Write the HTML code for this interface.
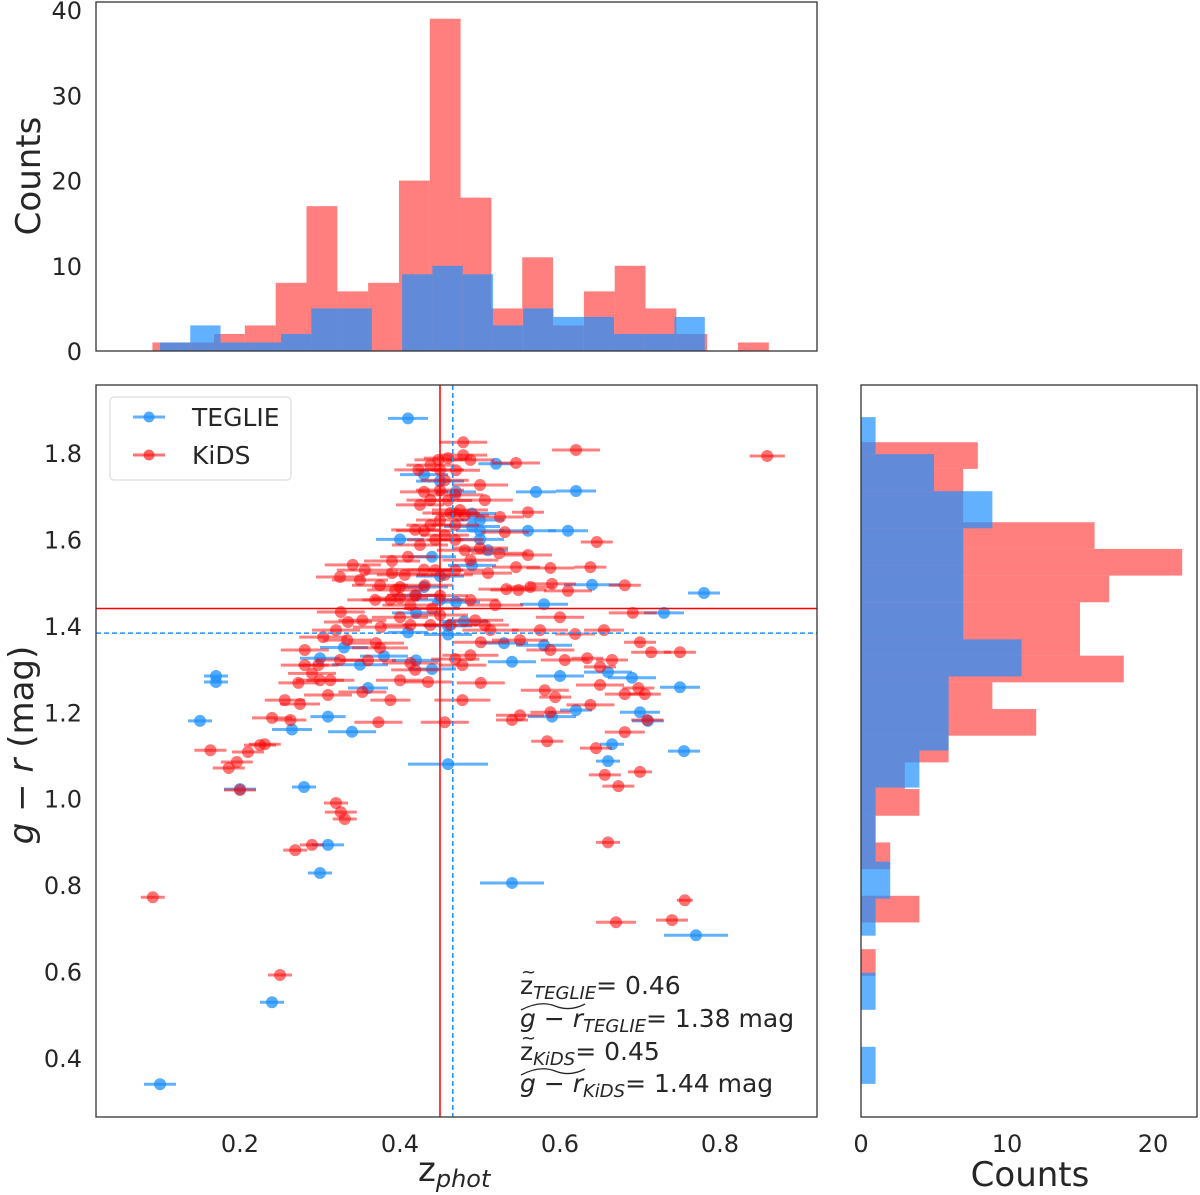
<!DOCTYPE html>
<html><head><meta charset="utf-8"><style>
html,body{margin:0;padding:0;background:#fff;}
svg{display:block;font-family:"DejaVu Sans","Liberation Sans",sans-serif;}
</style></head><body>
<svg id="chart" width="1200" height="1195" viewBox="0 0 1200 1195" xmlns="http://www.w3.org/2000/svg">
<g id="top-hist"></g>
<g id="right-hist"></g>
<g id="scatter"></g>
<g id="frames">
<rect x="96" y="2" width="721" height="349" fill="none" stroke="#333" stroke-width="1.3"/>
<rect x="96" y="385" width="721" height="732" fill="none" stroke="#333" stroke-width="1.3"/>
<rect x="861" y="385" width="336" height="732" fill="none" stroke="#333" stroke-width="1.3"/>
</g>
<g id="ticks" font-size="24" fill="#262626"></g>
<g>
<rect x="110" y="397" width="181" height="83" rx="4" fill="#fff" fill-opacity="0.85" stroke="#ddd" stroke-width="1.2"/>
<g>
<line x1="133" y1="417" x2="165" y2="417" stroke="#1e90ff" stroke-opacity="0.7" stroke-width="3"/>
<circle cx="149" cy="417" r="5.5" fill="#1e90ff" fill-opacity="0.75"/>
<text x="192" y="426" font-size="25" fill="#262626">TEGLIE</text></g>
<g>
<line x1="133" y1="455" x2="165" y2="455" stroke="#ff0000" stroke-opacity="0.55" stroke-width="3"/>
<circle cx="149" cy="455" r="5.5" fill="#ff0000" fill-opacity="0.6"/>
<text x="192" y="464" font-size="25" fill="#262626">KiDS</text></g>
</g>
<g font-size="25" fill="#262626">
<text x="520" y="994">z<tspan font-style="italic" font-size="18" dy="5">TEGLIE</tspan><tspan dy="-5">= 0.46</tspan></text>
<text x="521" y="978" font-size="18">~</text>
<text x="520" y="1027"><tspan font-style="italic">g</tspan> − <tspan font-style="italic">r</tspan><tspan font-style="italic" font-size="18" dy="5">TEGLIE</tspan><tspan dy="-5">= 1.38 mag</tspan></text>
<path d="M521 1010 Q540 1000 555 1006 Q570 1012 585 1004" fill="none" stroke="#262626" stroke-width="1.3"/>
<text x="520" y="1060">z<tspan font-style="italic" font-size="18" dy="5">KiDS</tspan><tspan dy="-5">= 0.45</tspan></text>
<text x="521" y="1044" font-size="18">~</text>
<text x="520" y="1092"><tspan font-style="italic">g</tspan> − <tspan font-style="italic">r</tspan><tspan font-style="italic" font-size="18" dy="5">KiDS</tspan><tspan dy="-5">= 1.44 mag</tspan></text>
<path d="M521 1075 Q540 1065 555 1071 Q570 1077 585 1069" fill="none" stroke="#262626" stroke-width="1.3"/>
</g>
<text x="0" y="0" font-size="34" fill="#262626" text-anchor="middle" transform="translate(40,176) rotate(-90)">Counts</text>
<text x="0" y="0" font-size="34" fill="#262626" text-anchor="middle" transform="translate(33,745) rotate(-90)"><tspan font-style="italic">g</tspan> − <tspan font-style="italic">r</tspan> (mag)</text>
<text x="418" y="1181" font-size="34" fill="#262626">z<tspan font-style="italic" font-size="24" dy="6">phot</tspan></text>
<text x="1030" y="1186" font-size="34" fill="#262626" text-anchor="middle">Counts</text>
</svg>
<script>
// ---- data ----
const topRedCounts=[1,1,2,3,8,17,7,8,20,39,18,5,11,3,7,10,5,2,0,1];
const topRedRange=[0.0905,0.861];
const topBlueCounts=[1,3,1,1,2,5,5,0,9,10,9,3,5,4,4,2,2,4];
const topBlueRange=[0.100,0.781];
const rightRedCounts=[8,7,7,16,22,17,15,15,18,9,12,6,3,4,1,2,0,4,0,1];
const rightRedRange=[1.825,0.590];
const rightBlueCounts=[1,5,9,7,7,7,11,6,6,4,1,1,2,1,0,1,0,1];
const rightBlueRange=[1.883,0.340];
const xTicks=[0.2,0.4,0.6,0.8];
const yTicks=[0.4,0.6,0.8,1.0,1.2,1.4,1.6,1.8];
const countTicksTop=[0,10,20,30,40];
const countTicksRight=[0,10,20];
const medians={blueZ:0.466,blueG:1.383,redZ:0.45,redG:1.44};
const blueZ=[0.41,0.52,0.57,0.62,0.47,0.45,0.43,0.49,0.50,0.49,0.50,0.56,0.61,0.50,0.51,0.49,0.45,0.43,0.45,0.47,0.58,0.64,0.78,0.73,0.42,0.46,0.48,0.41,0.46,0.58,0.54,0.60,0.66,0.69,0.42,0.35,0.75,0.62,0.70,0.59,0.44,0.33,0.30,0.36,0.265,0.31,0.34,0.17,0.17,0.15,0.66,0.665,0.755,0.46,0.28,0.20,0.31,0.30,0.54,0.77,0.24,0.10,0.40,0.44,0.42,0.38,0.53,0.71];
const blueG=[1.88,1.775,1.71,1.712,1.71,1.735,1.75,1.66,1.645,1.63,1.62,1.62,1.62,1.60,1.575,1.54,1.515,1.49,1.46,1.455,1.45,1.495,1.476,1.43,1.43,1.40,1.41,1.385,1.38,1.355,1.317,1.284,1.293,1.28,1.32,1.31,1.258,1.205,1.20,1.19,1.30,1.35,1.325,1.256,1.16,1.19,1.155,1.284,1.27,1.18,1.087,1.126,1.11,1.08,1.027,1.022,0.893,0.828,0.805,0.684,0.529,0.339,1.60,1.56,1.47,1.33,1.36,1.18];
const blueErr=[0.025,0.022,0.025,0.025,0.025,0.03,0.03,0.03,0.03,0.035,0.03,0.035,0.025,0.03,0.025,0.03,0.03,0.03,0.03,0.03,0.03,0.035,0.02,0.025,0.03,0.03,0.03,0.025,0.03,0.035,0.03,0.03,0.03,0.03,0.03,0.035,0.025,0.02,0.025,0.03,0.03,0.03,0.025,0.025,0.025,0.022,0.03,0.015,0.015,0.015,0.015,0.015,0.02,0.05,0.015,0.02,0.02,0.015,0.04,0.04,0.015,0.02,0.03,0.03,0.03,0.03,0.03,0.02];
const redZ=[0.859,0.620,0.479,0.091,0.250,0.756,0.740,0.670,0.660,0.673,0.700,0.656,0.645,0.681,0.709,0.706,0.681,0.698,0.750,0.714,0.700,0.691,0.681,0.646,0.638,0.650,0.600,0.584,0.540,0.588,0.594,0.650,0.619,0.634,0.665,0.655,0.610,0.590,0.588,0.560,0.545,0.533,0.563,0.560,0.545,0.524,0.510,0.519,0.506,0.501,0.501,0.478,0.478,0.469,0.456,0.435,0.413,0.388,0.373,0.353,0.300,0.275,0.263,0.240,0.231,0.210,0.196,0.186,0.163,0.200,0.320,0.326,0.331,0.290,0.269,0.225,0.256,0.273,0.281,0.298,0.313,0.325,0.334,0.320,0.281,0.304,0.335,0.326,0.375,0.376,0.353,0.369,0.388,0.400,0.413,0.350,0.325,0.341,0.356,0.390,0.406,0.375,0.394,0.419,0.431,0.444,0.456,0.469,0.481,0.488,0.500,0.469,0.444,0.425,0.419,0.438,0.450,0.463,0.475,0.425,0.438,0.450,0.469,0.456,0.423,0.438,0.448,0.460,0.479,0.488,0.450,0.500,0.506,0.481,0.469,0.456,0.413,0.438,0.450,0.463,0.488,0.494,0.513,0.488,0.419,0.400,0.550,0.575,0.588,0.606,0.548,0.531,0.525,0.638,0.581,0.550,0.43,0.41,0.39,0.45,0.44,0.40,0.37,0.36,0.31,0.29,0.47,0.46,0.43,0.47,0.43,0.40];
const redG=[1.793,1.807,1.825,0.772,0.592,0.765,0.719,0.714,0.899,1.029,1.062,1.055,1.117,1.154,1.182,1.242,1.242,1.256,1.339,1.339,1.362,1.430,1.494,1.594,1.536,1.305,1.420,1.133,1.182,1.200,1.235,1.263,1.381,1.325,1.321,1.390,1.481,1.497,1.534,1.564,1.536,1.485,1.490,1.663,1.777,1.568,1.522,1.448,1.402,1.362,1.268,1.309,1.228,1.323,1.177,1.270,1.314,1.228,1.177,1.247,1.274,1.219,1.182,1.187,1.126,1.108,1.085,1.071,1.112,1.020,0.990,0.969,0.953,0.893,0.881,1.124,1.228,1.268,1.309,1.309,1.274,1.321,1.367,1.390,1.344,1.374,1.409,1.432,1.349,1.397,1.413,1.460,1.460,1.464,1.448,1.506,1.513,1.541,1.529,1.522,1.518,1.494,1.483,1.471,1.494,1.529,1.518,1.529,1.575,1.552,1.580,1.599,1.599,1.587,1.622,1.633,1.645,1.661,1.668,1.680,1.691,1.714,1.703,1.737,1.761,1.772,1.784,1.788,1.795,1.784,1.761,1.726,1.691,1.656,1.633,1.610,1.402,1.402,1.425,1.402,1.460,1.413,1.390,1.332,1.298,1.274,1.367,1.390,1.344,1.321,1.483,1.617,1.652,1.217,1.251,1.193,1.53,1.56,1.55,1.47,1.44,1.42,1.36,1.32,1.24,1.29,1.66,1.69,1.71,1.76,1.62,1.49];
const redErr=[0.022,0.03,0.03,0.015,0.015,0.01,0.02,0.025,0.015,0.02,0.015,0.02,0.02,0.025,0.02,0.02,0.025,0.02,0.02,0.025,0.02,0.03,0.02,0.02,0.02,0.02,0.03,0.02,0.02,0.025,0.02,0.03,0.025,0.02,0.02,0.025,0.03,0.03,0.03,0.03,0.03,0.035,0.03,0.02,0.03,0.035,0.03,0.035,0.03,0.035,0.03,0.03,0.035,0.03,0.03,0.03,0.035,0.025,0.03,0.03,0.03,0.025,0.02,0.025,0.02,0.02,0.02,0.02,0.02,0.02,0.015,0.02,0.015,0.015,0.015,0.02,0.025,0.025,0.03,0.025,0.03,0.03,0.03,0.03,0.03,0.03,0.03,0.03,0.035,0.035,0.03,0.035,0.035,0.035,0.035,0.035,0.03,0.035,0.035,0.035,0.035,0.035,0.035,0.035,0.035,0.035,0.035,0.035,0.035,0.035,0.035,0.035,0.035,0.035,0.03,0.03,0.03,0.035,0.035,0.03,0.03,0.03,0.035,0.03,0.03,0.03,0.03,0.03,0.03,0.03,0.03,0.035,0.035,0.03,0.03,0.03,0.035,0.035,0.035,0.035,0.035,0.035,0.035,0.035,0.03,0.03,0.035,0.035,0.03,0.03,0.035,0.03,0.03,0.03,0.03,0.03,0.035,0.035,0.035,0.035,0.035,0.035,0.035,0.035,0.03,0.03,0.03,0.03,0.03,0.03,0.035,0.035];

// ---- scales ----
const X0=96,X1=817,Y0=385,Y1=1117;
const xS=v=>240+(v-0.2)*800;
const yS=v=>453+(1.8-v)*432.1;
const topC=c=>351-c*8.52;
const rightC=c=>861+c*14.6;
const NS='http://www.w3.org/2000/svg';
function mk(tag,attrs,parent){const e=document.createElementNS(NS,tag);for(const k in attrs)e.setAttribute(k,attrs[k]);parent.appendChild(e);return e;}

// top histogram
const th=document.getElementById('top-hist');
function topHist(counts,range,fill,op,name){
  const w=(range[1]-range[0])/counts.length;
  counts.forEach((c,i)=>{ if(!c) return;
    const a=xS(range[0]+i*w), b=xS(range[0]+(i+1)*w);
    const r=mk('rect',{x:a,y:topC(c),width:b-a,height:351-topC(c),fill:fill,'fill-opacity':op},th);
    
    
  });
}
topHist(topRedCounts,topRedRange,'#ff0000',0.5,'top-kids');
topHist(topBlueCounts,topBlueRange,'#1e90ff',0.7,'top-teglie');

// right histogram
const rh=document.getElementById('right-hist');
function rightHist(counts,range,fill,op,name){
  const h=(range[0]-range[1])/counts.length;
  counts.forEach((c,i)=>{ if(!c) return;
    const a=yS(range[0]-i*h), b=yS(range[0]-(i+1)*h);
    const r=mk('rect',{x:861,y:a,width:rightC(c)-861,height:b-a,fill:fill,'fill-opacity':op},rh);
    
    
  });
}
rightHist(rightRedCounts,rightRedRange,'#ff0000',0.5,'right-kids');
rightHist(rightBlueCounts,rightBlueRange,'#1e90ff',0.7,'right-teglie');

// scatter
const sc=document.getElementById('scatter');
function pts(zs,gs,es,col,lop,pop,name){
  zs.forEach((z,i)=>{
    const g=mk('g',{},sc);
    
    
    const y=yS(gs[i]);
    mk('line',{x1:xS(z-es[i]),x2:xS(z+es[i]),y1:y,y2:y,stroke:col,'stroke-opacity':lop,'stroke-width':3},g);
    mk('circle',{cx:xS(z),cy:y,r:6,fill:col,'fill-opacity':pop},g);
  });
}
pts(blueZ,blueG,blueErr,'#1e90ff',0.7,0.75,'teglie');
pts(redZ,redG,redErr,'#ff0000',0.5,0.55,'kids');
// median lines
let l;
l=mk('line',{x1:xS(medians.redZ),x2:xS(medians.redZ),y1:Y0,y2:Y1,stroke:'#ff0000','stroke-width':1.5},sc);


l=mk('line',{x1:X0,x2:X1,y1:yS(medians.redG),y2:yS(medians.redG),stroke:'#ff0000','stroke-width':1.5},sc);


l=mk('line',{x1:xS(medians.blueZ),x2:xS(medians.blueZ),y1:Y0,y2:Y1,stroke:'#1e90ff','stroke-width':1.5,'stroke-dasharray':'5,3'},sc);


l=mk('line',{x1:X0,x2:X1,y1:yS(medians.blueG),y2:yS(medians.blueG),stroke:'#1e90ff','stroke-width':1.5,'stroke-dasharray':'5,3'},sc);



// ticks
const tk=document.getElementById('ticks');
xTicks.forEach(v=>{const t=mk('text',{x:xS(v),y:1152,'text-anchor':'middle'},tk);t.textContent=v.toFixed(1);
  
  });
yTicks.forEach(v=>{const t=mk('text',{x:82,y:yS(v)+9,'text-anchor':'end'},tk);t.textContent=v.toFixed(1);
  
  });
countTicksTop.forEach(v=>{const t=mk('text',{x:82,y:topC(v)+9,'text-anchor':'end'},tk);t.textContent=v;
  
  });
countTicksRight.forEach(v=>{const t=mk('text',{x:rightC(v),y:1152,'text-anchor':'middle'},tk);t.textContent=v;
  
  });
</script>
</body></html>
